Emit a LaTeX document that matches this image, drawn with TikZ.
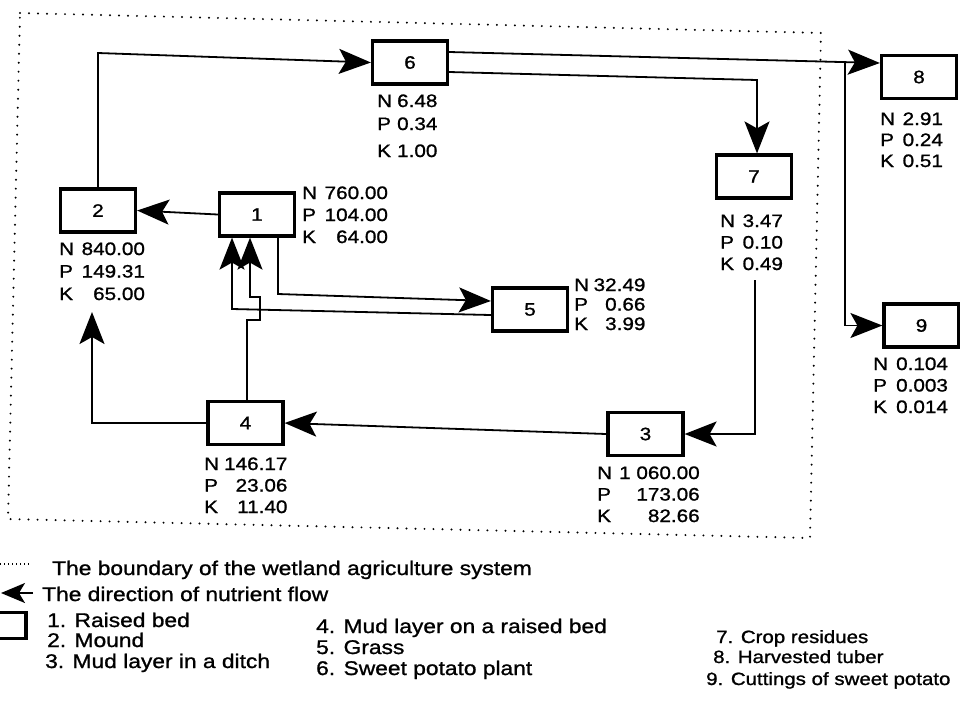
\documentclass[tikz,border=0pt]{standalone}
\usepackage{fontspec}
\setmainfont[FakeStretch=1.15,FakeBold=1.1]{Liberation Sans}
\usetikzlibrary{arrows.meta,calc}
\newcommand\npkbox[5]{{\fontsize{18}{#2}\selectfont\begin{tabular}[t]{@{}l@{\hspace{#1}}r@{}}N&#3\\P&#4\\K&#5\end{tabular}}}
\tikzset{
  box/.style={draw, line width=3.2pt, minimum width=75pt, minimum height=43pt, inner sep=0pt, font=\fontsize{18}{21}\selectfont},
  flow/.style={line width=1.8pt, -{Stealth[length=32pt,width=25pt,inset=7pt]}},
  smallflow/.style={line width=1.8pt, -{Stealth[length=24pt,width=20pt,inset=6pt]}},
  lbl/.style={inner sep=0pt, anchor=base west},
  leg/.style={inner sep=0pt, anchor=base west, font=\fontsize{19.8}{24}\selectfont},
  legc/.style={inner sep=0pt, anchor=base west, font=\fontsize{17.8}{22}\selectfont},
  boundary/.style={line width=2.2pt, line cap=round, dash pattern=on 0pt off 9pt},
  legdots/.style={line width=1.2pt, dash pattern=on 1pt off 3pt},
}
\begin{document}
\begin{tikzpicture}[x=1pt,y=-1pt]
\fill[white] (0,0) rectangle (960,724);
\useasboundingbox (0,0) rectangle (960,724);

% boundary of the system
\coordinate (bA) at (20,13);
\coordinate (bB) at (821,33);
\coordinate (bC) at (810,538);
\coordinate (bD) at (8,519);
\draw[boundary] (bA) -- (bB) -- (bC) -- (bD) -- cycle;

% boxes
\node[box] (b1) at (257,214.5) {1};
\node[box] (b2) at (98,210.5) {2};
\node[box] (b3) at (645.5,434) {3};
\node[box] (b4) at (245.5,423) {4};
\node[box] (b5) at (530,309.5) {5};
\node[box] (b6) at (410,62.5) {6};
\node[box] (b7) at (754,176.5) {7};
\node[box] (b8) at (919,77) {8};
\node[box] (b9) at (921.5,325.5) {9};

% N P K labels
\node[lbl] (l1) at (302,199) {\npkbox{7.5pt}{22pt}{760.00}{104.00}{64.00}};
\node[lbl] (l2) at (59,255) {\npkbox{7.5pt}{22.5pt}{840.00}{149.31}{65.00}};
\node[lbl] (l3) at (597,479) {\npkbox{7pt}{21.5pt}{1 060.00}{173.06}{82.66}};
\node[lbl] (l4) at (204,470) {\npkbox{5pt}{21.5pt}{146.17}{23.06}{11.40}};
\node[lbl] (l5) at (574,291) {\npkbox{4.5pt}{19.5pt}{32.49}{0.66}{3.99}};
\node[lbl] (l6) at (377,107) {{\fontsize{18}{23pt}\selectfont\begin{tabular}[t]{@{}l@{\hspace{5pt}}l@{}}N&6.48\\P&0.34\\[4pt]K&1.00\end{tabular}}};
\node[lbl] (l7) at (720,227) {\npkbox{7.5pt}{21.5pt}{3.47}{0.10}{0.49}};
\node[lbl] (l8) at (880,125) {\npkbox{7.5pt}{21pt}{2.91}{0.24}{0.51}};
\node[lbl] (l9) at (873,370) {\npkbox{8pt}{21.5pt}{0.104}{0.003}{0.014}};

% 2 -> 6
\coordinate (j26) at (100,53);
\draw[flow] (b2.north) -- (b2.north |- j26) -- (b6.west);
% 1 -> 2
\draw[flow] (b1.west) -- (b2.east);
% 6 -> 8 and branch to 9
\coordinate (s68) at ($(b6.east)+(0,-10.5)$);
\coordinate (e8) at ($(b8.west)+(0,-14)$);
\draw[flow] (s68) -- (e8);
\coordinate (j89) at ($(s68)!0.919!(e8)$);
\draw[flow] (j89) -- (j89 |- b9.west) -- (b9.west);
% 6 -> 7
\coordinate (s67) at ($(b6.east)+(0,9.5)$);
\coordinate (k67) at (757,80);
\draw[flow] (s67) -- (k67) -- (k67 |- b7.north);
% 7 -> 3
\coordinate (s73) at (755,280);
\draw[flow] (s73) -- (s73 |- b3.east) -- (b3.east);
% 3 -> 4
\draw[flow] (b3.west) -- (b4.east);
% 4 -> 2
\coordinate (t2) at (92,312);
\draw[flow] (b4.west) -- (t2 |- b4.west) -- (t2);
% 4 -> 1 (with jog)
\coordinate (q1) at (247,320);
\coordinate (q2) at (260,320);
\coordinate (q3) at (260,297);
\coordinate (q4) at (250,297);
\draw[flow] (b4.north -| q1) -- (q1) -- (q2) -- (q3) -- (q4) -- (q4 |- b1.south);
% 5 -> 1
\coordinate (s51) at ($(b5.west)+(0,5.5)$);
\coordinate (k51) at (232,309);
\draw[flow] (s51) -- (k51) -- (k51 |- b1.south);
% 1 -> 5
\coordinate (k15) at (278,294);
\draw[flow] (k15 |- b1.south) -- (k15) -- ($(b5.west)+(0,-8.5)$);

% legend
\coordinate (ld1) at (0,564);
\coordinate (ld2) at (30,564);
\draw[legdots] (ld1) -- (ld2);
\coordinate (la1) at (33,593);
\coordinate (la2) at (1,593);
\draw[smallflow] (la1) -- (la2);
\node[box, minimum width=30pt, minimum height=26pt] (legbox) at (11,625.5) {};
\node[leg] (lg1) at (52,575) {The boundary of the wetland agriculture system};
\node[leg] (lg2) at (42,601) {The direction of nutrient flow};
\node[leg] (i1) at (47,627) {1. Raised bed};
\node[leg] (i2) at (47,647) {2. Mound};
\node[leg] (i3) at (45,668) {3. Mud layer in a ditch};
\node[leg] (i4) at (316,633) {4. Mud layer on a raised bed};
\node[leg] (i5) at (316,654) {5. Grass};
\node[leg] (i6) at (316,675) {6. Sweet potato plant};
\node[legc] (i7) at (716,643) {7. Crop residues};
\node[legc] (i8) at (713,663) {8. Harvested tuber};
\node[legc] (i9) at (706,685) {9. Cuttings of sweet potato};
\end{tikzpicture}
\end{document}
